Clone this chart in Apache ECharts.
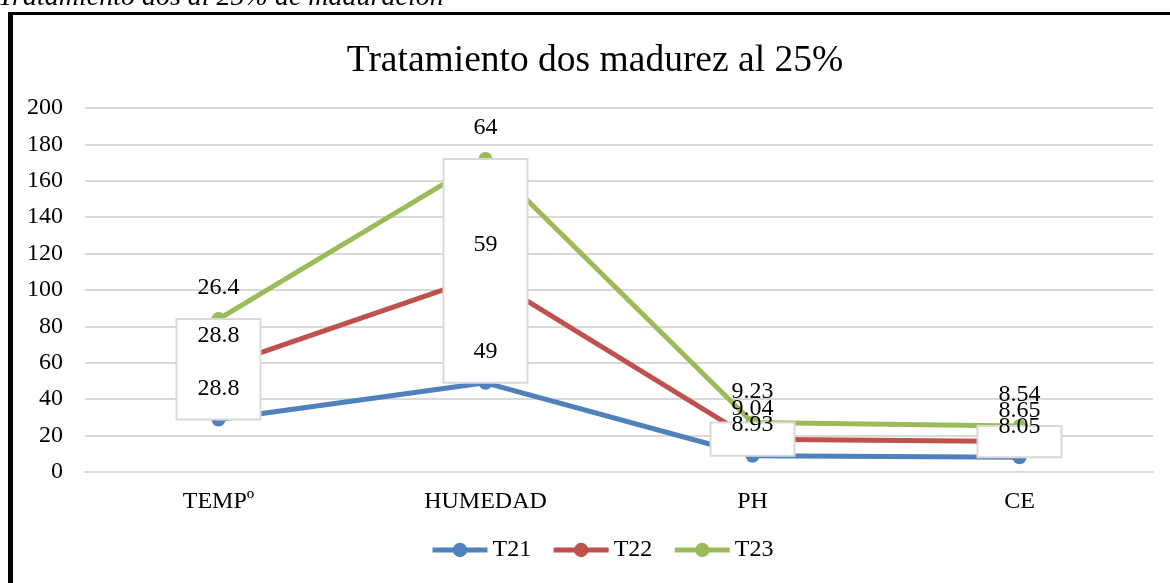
<!DOCTYPE html>
<html>
<head>
<meta charset="utf-8">
<script src="https://cdn.jsdelivr.net/npm/echarts@6/dist/echarts.min.js"></script>
<style>
  html, body { margin: 0; padding: 0; background: #fff; }
  #main { width: 1170px; height: 583px; }
</style>
</head>
<body>
<div id="main"></div>
<script>
var categories = ['TEMPº', 'HUMEDAD', 'PH', 'CE'];
var t21 = [28.8, 49, 8.93, 8.05];
var t22 = [28.8, 59, 9.04, 8.65];
var t23 = [26.4, 64, 9.23, 8.54];
var seriesNames = ['T21', 'T22', 'T23'];
var yTicks = { min: 0, max: 200, interval: 20 };

var colors = ['#4F81BD', '#C0504D', '#9BBB59'];
var font = 'Liberation Serif, Times New Roman, serif';

var chart = echarts.init(document.getElementById('main'));

// one row per category for the label boxes
var boxData = categories.map(function (c, i) {
    return [i, t21[i], t22[i], t23[i]];
});

function lineSeries(name, data, color) {
    return {
        name: name,
        type: 'line',
        stack: 'total',
        data: data,
        z: 2,
        symbol: 'circle',
        symbolSize: 14,
        lineStyle: { width: 5, color: color },
        itemStyle: { color: color },
        label: { show: false }
    };
}

function renderBox(params, api) {
    var i = api.value(0);
    var a = api.value(1), b = api.value(2), c = api.value(3);
    var p1 = api.coord([i, a]);
    var p2 = api.coord([i, a + b]);
    var p3 = api.coord([i, a + b + c]);
    var w = 84;
    var txt = function (p, v) {
        return {
            type: 'text',
            x: p[0], y: p[1] - 31,
            style: {
                text: String(v), fill: '#000', font: '24px ' + font,
                align: 'center', verticalAlign: 'middle'
            }
        };
    };
    return {
        type: 'group',
        children: [
            {
                type: 'rect',
                shape: { x: p1[0] - w / 2, y: p3[1], width: w, height: p1[1] - p3[1] },
                style: { fill: '#fff', stroke: '#d9d9d9', lineWidth: 2 }
            },
            txt(p1, a), txt(p2, b), txt(p3, c)
        ]
    };
}

option = {
    backgroundColor: '#fff',
    color: colors,
    animation: false,
    title: {
        text: 'Tratamiento dos madurez al 25%',
        left: 590,
        textAlign: 'center',
        top: 37,
        textStyle: { fontFamily: font, fontSize: 37.5, fontWeight: 'normal', color: '#000' }
    },
    legend: {
        data: seriesNames.map(function (n, k) {
            return {
                name: n,
                lineStyle: { width: 5, color: colors[k] },
                itemStyle: { color: colors[k] }
            };
        }),
        bottom: 16,
        left: 425,
        itemWidth: 55,
        itemHeight: 18,
        itemGap: 20,
        textStyle: { fontFamily: font, fontSize: 24, color: '#000' }
    },
    grid: { left: 85, right: 17, top: 108, bottom: 111 },
    xAxis: {
        type: 'category',
        data: categories,
        boundaryGap: true,
        axisLine: { lineStyle: { color: '#d9d9d9', width: 2 } },
        axisTick: { show: false },
        axisLabel: { margin: 18, fontFamily: font, fontSize: 24, color: '#000' }
    },
    yAxis: {
        type: 'value',
        min: yTicks.min,
        max: yTicks.max,
        interval: yTicks.interval,
        axisLine: { show: false },
        axisTick: { show: false },
        axisLabel: { margin: 22, fontFamily: font, fontSize: 24, color: '#000' },
        splitLine: { lineStyle: { color: '#d9d9d9', width: 2 } }
    },
    graphic: [
        {
            type: 'text', left: -2, top: -16,
            style: { text: 'Tratamiento dos al 25% de maduración', font: 'italic 28px ' + font, fill: '#000' }
        },
        { type: 'rect', shape: { x: 8, y: 12, width: 5, height: 580 }, style: { fill: '#000' } },
        { type: 'rect', shape: { x: 8, y: 12, width: 1170, height: 3 }, style: { fill: '#000' } }
    ],
    series: [
        lineSeries(seriesNames[0], t21, colors[0]),
        lineSeries(seriesNames[1], t22, colors[1]),
        lineSeries(seriesNames[2], t23, colors[2]),
        {
            type: 'custom',
            z: 3,
            silent: true,
            renderItem: renderBox,
            encode: { x: 0, y: 1 },
            data: boxData
        }
    ]
};

chart.setOption(option);
</script>
</body>
</html>
